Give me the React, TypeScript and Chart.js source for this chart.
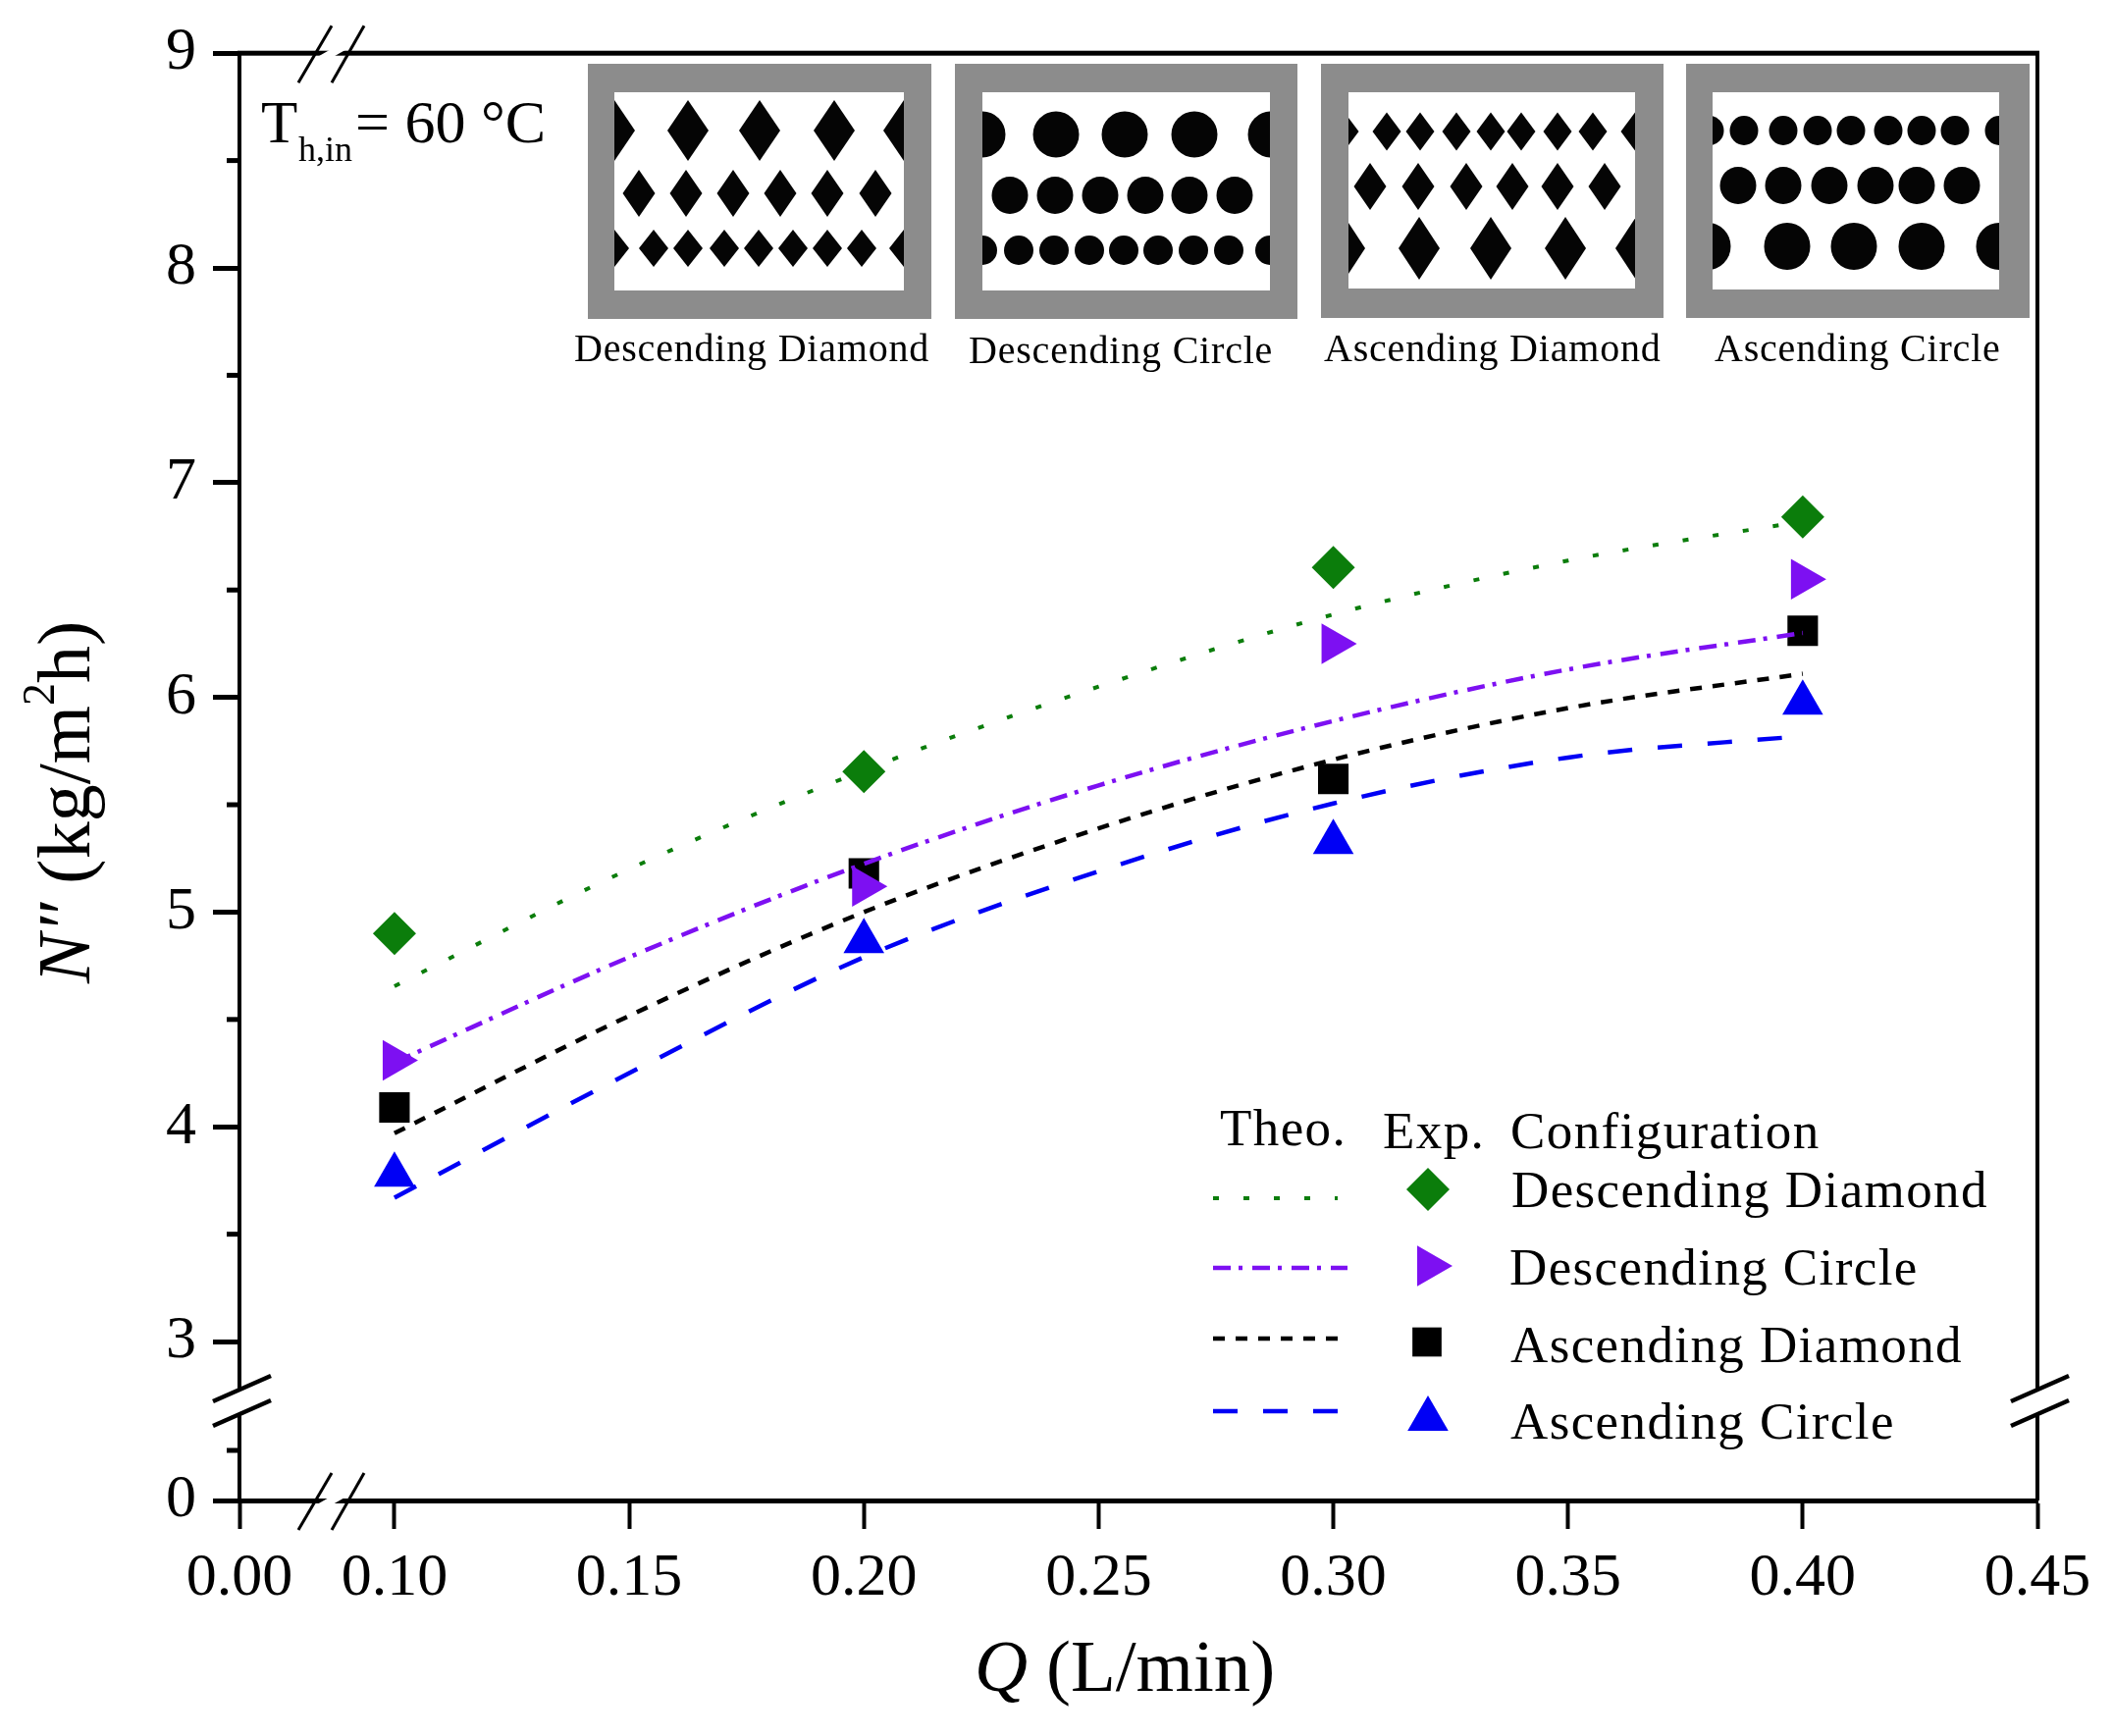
import { useEffect, useRef } from 'react';
import { Chart, LinearScale, registerables, type Plugin } from 'chart.js';
import { drawPoint } from 'chart.js/helpers';

const Q_THEO = [0.1, 0.15, 0.2, 0.25, 0.3, 0.35, 0.4];
const THEO_DESC_DIAMOND = [4.655, 5.2, 5.66, 6.05, 6.386, 6.637, 6.82];
const THEO_DESC_CIRCLE = [4.3, 4.79, 5.225, 5.59, 5.89, 6.13, 6.3];
const THEO_ASC_DIAMOND = [3.97, 4.517, 5.0, 5.39, 5.71, 5.95, 6.11];
const THEO_ASC_CIRCLE = [3.67, 4.25, 4.79, 5.19, 5.506, 5.72, 5.82];

const Q_EXP = [0.1, 0.2, 0.3, 0.4];
const EXP_DESC_DIAMOND = [4.9, 5.654, 6.605, 6.84];
const EXP_DESC_CIRCLE = [4.31, 5.12, 6.25, 6.55];
const EXP_ASC_DIAMOND = [4.09, 5.18, 5.62, 6.31];
const EXP_ASC_CIRCLE = [3.776, 4.864, 5.325, 5.974];

const CONFIGS = ['Descending Diamond', 'Descending Circle', 'Ascending Diamond', 'Ascending Circle'];

const X_TICKS = [0, 0.1, 0.15, 0.2, 0.25, 0.3, 0.35, 0.4, 0.45];
const Y_TICKS = [0, 1, 3, 3.5, 4, 4.5, 5, 5.5, 6, 6.5, 7, 7.5, 8, 8.5, 9];
const Y_LABELLED = [0, 3, 4, 5, 6, 7, 8, 9];

// [value, fraction of axis length] - both axes are broken
const X_STOPS = [[0, 0], [0.1, 0.0862], [0.45, 1]];
const Y_STOPS = [[0, 0], [1, 0.0346], [3, 0.1098], [9, 1]];

const SERIF = '"Liberation Serif", "Times New Roman", serif';
const GREEN = '#0b7d0b';
const PURPLE = '#7d10f2';
const BLUE = '#0000f5';
const BLACK = '#000000';

class BrokenScale extends LinearScale {
  static id = 'broken';
  static defaults = LinearScale.defaults;

  stops() {
    return this.axis === 'x' ? X_STOPS : Y_STOPS;
  }

  getPixelForValue(value: number) {
    const st = this.stops();
    let i = 1;
    while (i < st.length - 1 && value > st[i][0]) i++;
    const [v0, f0] = st[i - 1];
    const [v1, f1] = st[i];
    return this.getPixelForDecimal(f0 + ((value - v0) / (v1 - v0)) * (f1 - f0));
  }

  getValueForPixel(pixel: number) {
    const st = this.stops();
    const d = this.getDecimalForPixel(pixel);
    let i = 1;
    while (i < st.length - 1 && d > st[i][1]) i++;
    const [v0, f0] = st[i - 1];
    const [v1, f1] = st[i];
    return v0 + ((d - f0) / (f1 - f0)) * (v1 - v0);
  }
}

Chart.register(...registerables, BrokenScale);

type Shape = 'diamond' | 'circle';
interface Row { y: number; rx: number; ry: number; xs: number[] }
interface Panel { shape: Shape; outer: number[]; inner: number[]; rows: Row[]; textX: number; textY: number }

// the four geometry sketches along the top of the plot
const PANELS: Panel[] = [
  {
    shape: 'diamond', outer: [599, 65, 949, 325], inner: [626, 94, 921, 296], textX: 585, textY: 368,
    rows: [
      { y: 133, rx: 21, ry: 31, xs: [626, 701, 774, 850, 921] },
      { y: 197, rx: 16.5, ry: 24, xs: [651, 699, 747, 795, 843, 892] },
      { y: 253, rx: 15, ry: 19, xs: [626, 666, 701, 738, 773, 808, 843, 878, 921] },
    ],
  },
  {
    shape: 'circle', outer: [973, 65, 1322, 325], inner: [1001, 94, 1294, 296], textX: 987, textY: 370,
    rows: [
      { y: 137, rx: 23.5, ry: 23.5, xs: [1001, 1076, 1146, 1217, 1295] },
      { y: 199, rx: 18.5, ry: 19, xs: [1029, 1075, 1121, 1167, 1212, 1258] },
      { y: 255, rx: 15, ry: 15, xs: [1001, 1038, 1074, 1110, 1145, 1180, 1216, 1252, 1294] },
    ],
  },
  {
    shape: 'diamond', outer: [1346, 65, 1695, 324], inner: [1374, 94, 1666, 294], textX: 1349, textY: 368,
    rows: [
      { y: 134, rx: 14.5, ry: 19.5, xs: [1370, 1413, 1447, 1484, 1519, 1550, 1587, 1623, 1666] },
      { y: 190, rx: 16.5, ry: 24, xs: [1396, 1445, 1494, 1541, 1587, 1635] },
      { y: 253, rx: 21, ry: 32, xs: [1370, 1446, 1519, 1595, 1667] },
    ],
  },
  {
    shape: 'circle', outer: [1718, 65, 2068, 324], inner: [1745, 94, 2037, 295], textX: 1747, textY: 368,
    rows: [
      { y: 133, rx: 14.5, ry: 15, xs: [1742, 1777, 1817, 1852, 1886, 1924, 1958, 1992, 2037] },
      { y: 189, rx: 18.5, ry: 19, xs: [1771, 1817, 1864, 1911, 1953, 1999] },
      { y: 251, rx: 23.5, ry: 24, xs: [1740, 1821, 1889, 1958, 2037] },
    ],
  },
];

function drawPanels(ctx: CanvasRenderingContext2D) {
  for (let p = 0; p < PANELS.length; p++) {
    const { outer, inner, rows, shape, textX, textY } = PANELS[p];
    ctx.fillStyle = '#8c8c8c';
    ctx.fillRect(outer[0], outer[1], outer[2] - outer[0], outer[3] - outer[1]);
    ctx.fillStyle = '#ffffff';
    ctx.fillRect(inner[0], inner[1], inner[2] - inner[0], inner[3] - inner[1]);
    ctx.save();
    ctx.beginPath();
    ctx.rect(inner[0], inner[1], inner[2] - inner[0], inner[3] - inner[1]);
    ctx.clip();
    ctx.fillStyle = '#050505';
    for (const r of rows) {
      for (const x of r.xs) {
        ctx.beginPath();
        if (shape === 'circle') {
          ctx.ellipse(x, r.y, r.rx, r.ry, 0, 0, Math.PI * 2);
        } else {
          ctx.moveTo(x, r.y - r.ry);
          ctx.lineTo(x + r.rx, r.y);
          ctx.lineTo(x, r.y + r.ry);
          ctx.lineTo(x - r.rx, r.y);
          ctx.closePath();
        }
        ctx.fill();
      }
    }
    ctx.restore();
    ctx.fillStyle = '#000';
    ctx.font = `40px ${SERIF}`;
    (ctx as any).letterSpacing = '0.8px';
    ctx.fillText(CONFIGS[p], textX, textY);
    (ctx as any).letterSpacing = '0px';
  }
}

// runs of text set one after another along the baseline
function drawRuns(ctx: CanvasRenderingContext2D, x: number, y: number, runs: { t: string; font: string; dy?: number }[]) {
  let cx = x;
  for (const r of runs) {
    ctx.font = r.font;
    ctx.fillText(r.t, cx, y + (r.dy ?? 0));
    cx += ctx.measureText(r.t).width;
  }
}

function slash(ctx: CanvasRenderingContext2D, x0: number, y0: number, x1: number, y1: number, w: number) {
  ctx.lineWidth = w;
  ctx.beginPath();
  ctx.moveTo(x0, y0);
  ctx.lineTo(x1, y1);
  ctx.stroke();
}

function gap(ctx: CanvasRenderingContext2D, pts: number[]) {
  ctx.fillStyle = '#fff';
  ctx.beginPath();
  ctx.moveTo(pts[0], pts[1]);
  for (let i = 2; i < pts.length; i += 2) ctx.lineTo(pts[i], pts[i + 1]);
  ctx.closePath();
  ctx.fill();
}

const frame: Plugin<'scatter'> = {
  id: 'frame',
  afterDraw(chart) {
    const { ctx, chartArea: a } = chart;
    const yScale = chart.scales.y;
    ctx.save();
    ctx.strokeStyle = '#000';
    ctx.fillStyle = '#000';
    ctx.lineCap = 'butt';

    // top and right edges
    ctx.fillRect(a.left - 2, a.top - 2.5, a.right - a.left + 4, 5);
    ctx.fillRect(a.right - 2, a.top, 4, a.bottom - a.top);

    // short y ticks
    for (const v of Y_TICKS) {
      if (Y_LABELLED.includes(v)) continue;
      ctx.fillRect(a.left - 13, yScale.getPixelForValue(v) - 2.5, 13, 5);
    }

    // axis breaks
    for (const y of [a.top, a.bottom]) {
      gap(ctx, [323, y + 4, 337, y - 4, 353, y - 4, 339, y + 4]);
      ctx.strokeStyle = '#000';
      slash(ctx, 304, y + 30, 338, y - 28, 3);
      slash(ctx, 338, y + 30, 371, y - 28, 3);
    }
    for (const x of [a.left, a.right]) {
      gap(ctx, [x - 4, 1419, x + 4, 1413, x + 4, 1437, x - 4, 1443]);
      ctx.strokeStyle = '#000';
      slash(ctx, x - 27, 1428, x + 32, 1402, 4.5);
      slash(ctx, x - 27, 1453, x + 32, 1427, 4.5);
    }

    drawPanels(ctx);

    // inlet temperature note
    ctx.fillStyle = '#000';
    ctx.textAlign = 'left';
    ctx.textBaseline = 'alphabetic';
    ctx.font = `61px ${SERIF}`;
    ctx.fillText('T', 266, 145);
    ctx.font = `36px ${SERIF}`;
    ctx.fillText('h,in', 304, 164);
    ctx.font = `62px ${SERIF}`;
    ctx.fillText('= 60 °C', 362, 145);

    // legend
    (ctx as any).letterSpacing = '1.4px';
    ctx.font = `53px ${SERIF}`;
    ctx.fillText('Theo.', 1243, 1167);
    ctx.fillText('Exp.', 1409, 1170);
    ctx.fillText('Configuration', 1539, 1170);
    const legend = [
      { color: GREEN, dash: [6, 25], y: 1221, w: 4, x1: 1363, style: 'rectRot', r: 22, rot: 0, mx: 1455, my: 1212, tx: 1540, ty: 1230 },
      { color: PURPLE, dash: [18, 8, 4, 10], y: 1292, w: 4.5, x1: 1373, style: 'triangle', r: 24, rot: 90, mx: 1456, my: 1290, tx: 1538, ty: 1309 },
      { color: BLACK, dash: [12, 11], y: 1364, w: 4.5, x1: 1363, style: 'rect', r: 21, rot: 0, mx: 1454, my: 1367.5, tx: 1539, ty: 1388 },
      { color: BLUE, dash: [25, 26], y: 1438, w: 4.5, x1: 1363, style: 'triangle', r: 24, rot: 0, mx: 1455, my: 1446, tx: 1539, ty: 1466 },
    ];
    legend.forEach((l, i) => {
      ctx.strokeStyle = l.color;
      ctx.lineWidth = l.w;
      ctx.setLineDash(l.dash);
      ctx.beginPath();
      ctx.moveTo(1236, l.y);
      ctx.lineTo(l.x1, l.y);
      ctx.stroke();
      ctx.setLineDash([]);
      ctx.fillStyle = l.color;
      drawPoint(ctx, { pointStyle: l.style as any, radius: l.r, rotation: l.rot, borderWidth: 0 }, l.mx, l.my);
      ctx.fillStyle = '#000';
      ctx.fillText(CONFIGS[i], l.tx, l.ty);
    });
    (ctx as any).letterSpacing = '0px';

    // axis titles
    drawRuns(ctx, 993, 1723, [
      { t: 'Q', font: `italic 75px ${SERIF}` },
      { t: ' (L/min)', font: `75px ${SERIF}` },
    ]);
    ctx.translate(91, 1002);
    ctx.rotate(-Math.PI / 2);
    drawRuns(ctx, 0, 0, [
      { t: 'N″', font: `italic 76px ${SERIF}` },
      { t: ' (kg/m', font: `76px ${SERIF}` },
      { t: '2', font: `46px ${SERIF}`, dy: -36 },
      { t: 'h)', font: `76px ${SERIF}` },
    ]);
    ctx.restore();
  },
};

export default function App() {
  const canvasRef = useRef<HTMLCanvasElement>(null);

  useEffect(() => {
    if (!canvasRef.current) return;

    const curve = (ys: number[], color: string, dash: number[], w: number) => ({
      data: ys.map((y, i) => ({ x: Q_THEO[i], y })),
      showLine: true,
      cubicInterpolationMode: 'monotone' as const,
      borderColor: color,
      borderWidth: w,
      borderDash: dash,
      pointRadius: 0,
      order: 5,
    });
    const marks = (ys: number[], color: string, style: string, r: number, rot: number, order: number) => ({
      data: ys.map((y, i) => ({ x: Q_EXP[i], y })),
      showLine: false,
      pointStyle: style,
      pointRadius: r,
      pointRotation: rot,
      pointBackgroundColor: color,
      pointBorderWidth: 0,
      order,
    });

    const chart = new Chart(canvasRef.current, {
      type: 'scatter',
      plugins: [frame],
      data: {
        datasets: [
          curve(THEO_DESC_DIAMOND, GREEN, [6, 25], 4),
          curve(THEO_DESC_CIRCLE, PURPLE, [18, 8, 4, 10], 4.5),
          curve(THEO_ASC_DIAMOND, BLACK, [12, 11], 4.5),
          curve(THEO_ASC_CIRCLE, BLUE, [25, 26], 4.5),
          marks(EXP_DESC_DIAMOND, GREEN, 'rectRot', 22, 0, 1),
          marks(EXP_DESC_CIRCLE, PURPLE, 'triangle', 24, 90, 1),
          marks(EXP_ASC_DIAMOND, BLACK, 'rect', 22, 0, 10),
          marks(EXP_ASC_CIRCLE, BLUE, 'triangle', 24, 0, 1),
        ] as any,
      },
      options: {
        responsive: false,
        animation: false,
        devicePixelRatio: 1,
        layout: { padding: { top: 54, right: 77, left: 0, bottom: 0 } },
        plugins: { legend: { display: false }, tooltip: { enabled: false } },
        scales: {
          x: {
            type: 'broken' as any,
            min: 0,
            max: 0.45,
            afterFit: (s: any) => { s.height = 240; },
            afterBuildTicks: (s: any) => { s.ticks = X_TICKS.map(value => ({ value })); },
            border: { color: '#000', width: 5 },
            grid: { drawOnChartArea: false, tickLength: 29, tickWidth: 4, tickColor: '#000' },
            ticks: {
              autoSkip: false,
              maxRotation: 0,
              padding: 14,
              color: '#000',
              font: { family: SERIF, size: 62 },
              callback: (v: any) => Number(v).toFixed(2),
            },
          },
          y: {
            type: 'broken' as any,
            min: 0,
            max: 9,
            afterFit: (s: any) => { s.width = 244; },
            afterBuildTicks: (s: any) => { s.ticks = Y_TICKS.map(value => ({ value })); },
            border: { color: '#000', width: 4 },
            grid: {
              drawOnChartArea: false,
              tickLength: 27,
              tickWidth: 5,
              tickColor: (c: any) => (Y_LABELLED.includes(c.tick?.value) ? '#000' : 'rgba(0,0,0,0)'),
            },
            ticks: {
              autoSkip: false,
              padding: 17,
              color: '#000',
              font: { family: SERIF, size: 62 },
              callback: (v: any) => (Y_LABELLED.includes(Number(v)) ? String(v) : ''),
            },
          },
        },
      },
    });

    return () => chart.destroy();
  }, []);

  return (
    <div style={{ position: 'absolute', left: 0, top: 0, width: 2153, height: 1769, background: '#fff' }}>
      <canvas ref={canvasRef} width={2153} height={1769} style={{ display: 'block' }} />
    </div>
  );
}
